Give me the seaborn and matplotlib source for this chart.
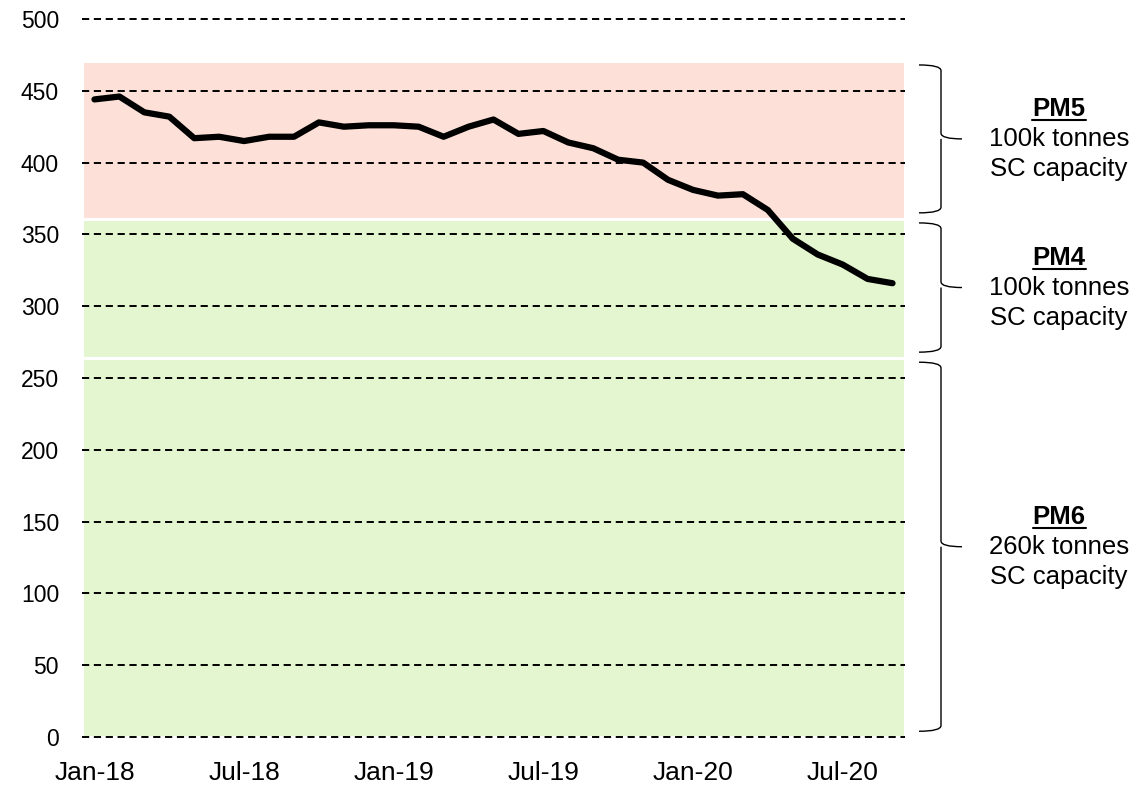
import matplotlib
matplotlib.use("Agg")
import matplotlib.pyplot as plt
import matplotlib.transforms as mtransforms
from matplotlib.path import Path
from matplotlib.patches import PathPatch
from matplotlib.lines import Line2D
import seaborn as sns
import pandas as pd
import numpy as np

# ---- data ----
months = ["Jan-18", "Feb-18", "Mar-18", "Apr-18", "May-18", "Jun-18", "Jul-18", "Aug-18",
          "Sep-18", "Oct-18", "Nov-18", "Dec-18", "Jan-19", "Feb-19", "Mar-19", "Apr-19",
          "May-19", "Jun-19", "Jul-19", "Aug-19", "Sep-19", "Oct-19", "Nov-19", "Dec-19",
          "Jan-20", "Feb-20", "Mar-20", "Apr-20", "May-20", "Jun-20", "Jul-20", "Aug-20",
          "Sep-20"]
values = [444, 446, 435, 432, 417, 418, 415, 418, 418, 428, 425, 426, 426, 425, 418, 425,
          430, 420, 422, 414, 410, 402, 400, 388, 381, 377, 378, 367, 347, 336, 329, 319, 316]
tick_labels = ["Jan-18", "Jul-18", "Jan-19", "Jul-19", "Jan-20", "Jul-20"]

band_names = ["PM6", "PM4", "PM5"]
band_bottoms = [0, 264, 361]
band_tops = [264, 361, 471]
band_colors = ["#E3F6D0", "#E3F6D0", "#FDE1D8"]
band_texts = ["260k tonnes", "100k tonnes", "100k tonnes"]

df = pd.DataFrame({"idx": np.arange(len(months)), "month": months, "value": values})

sns.set_theme(style="white")
plt.rcParams["font.family"] = ["Liberation Sans", "DejaVu Sans"]

W, H = 1135, 785
fig = plt.figure(figsize=(W / 100, H / 100), dpi=100)
ax = fig.add_axes([82 / W, 1 - 737 / H, (905 - 82) / W, (737 - 19) / H])

# bands
for b0, b1, c in zip(band_bottoms, band_tops, band_colors):
    ax.axhspan(b0, b1, facecolor=c, edgecolor="white", linewidth=2.2, zorder=0)

# gridlines
for yv in range(0, 501, 50):
    ax.axhline(yv, color="black", linewidth=1.4, linestyle=(0, (3.7, 2.4)), zorder=1, clip_on=False)

sns.lineplot(data=df, x="idx", y="value", ax=ax, color="black", linewidth=4.5,
             zorder=3, solid_capstyle="round", solid_joinstyle="round")

ax.set_xlim(-0.5, len(months) - 0.5)
ax.set_ylim(0, 500)
ax.set_yticks(range(0, 501, 50))
ax.set_xticks([months.index(t) for t in tick_labels])
ax.set_xticklabels(tick_labels)
ax.tick_params(axis="y", labelsize=16.5, pad=16.5, length=0, colors="black")
ax.tick_params(axis="x", labelsize=19, pad=17.5, length=0, colors="black")
ax.set_xlabel("")
ax.set_ylabel("")
for s in ax.spines.values():
    s.set_visible(False)
ax.grid(False)
ax.patch.set_alpha(0)

# braces
trans = mtransforms.blended_transform_factory(ax.transAxes, ax.transData)
axw = 905 - 82
def xa(px):
    return (px - 82) / axw

def brace(y0, y1):
    x0, x1, x2 = xa(919), xa(941), xa(962)
    r = 4.0
    mid = (y0 + y1) / 2
    verts = [(x0, y1), (x1, y1), (x1, y1 - r),
             (x1, mid + r), (x1, mid), (x2, mid),
             (x1, mid), (x1, mid - r),
             (x1, y0 + r), (x1, y0), (x0, y0)]
    codes = [Path.MOVETO, Path.CURVE3, Path.CURVE3,
             Path.LINETO, Path.CURVE3, Path.CURVE3,
             Path.MOVETO, Path.CURVE3, Path.LINETO,
             Path.CURVE3, Path.CURVE3]
    p = PathPatch(Path(verts, codes), transform=trans, fill=False,
                  edgecolor="black", linewidth=1.0, clip_on=False)
    ax.add_patch(p)
    return mid

text_x = 1059 / W
fs = 18.5
lsp = 30
name_texts = []
for name, b0, b1, t in zip(band_names, band_bottoms, band_tops, band_texts):
    mid = brace(b0 + 4, b1 - 3)
    ypx = 737 - mid * 718 / 500
    yf = 1 - ypx / H
    fig.text(text_x, yf, t, ha="center", va="center", fontsize=fs, color="black")
    fig.text(text_x, yf - lsp / H, "SC capacity", ha="center", va="center", fontsize=fs, color="black")
    nt = fig.text(text_x, yf + lsp / H, name, ha="center", va="center", fontsize=fs,
                  fontweight="bold", color="black")
    name_texts.append(nt)

fig.canvas.draw()
renderer = fig.canvas.get_renderer()
for nt in name_texts:
    bb = nt.get_window_extent(renderer)
    yl = bb.y0 + 1
    fig.add_artist(Line2D([bb.x0 / W, bb.x1 / W], [yl / H, yl / H], transform=fig.transFigure,
                          color="black", linewidth=1.5))

fig.savefig("out.png", dpi=100)
